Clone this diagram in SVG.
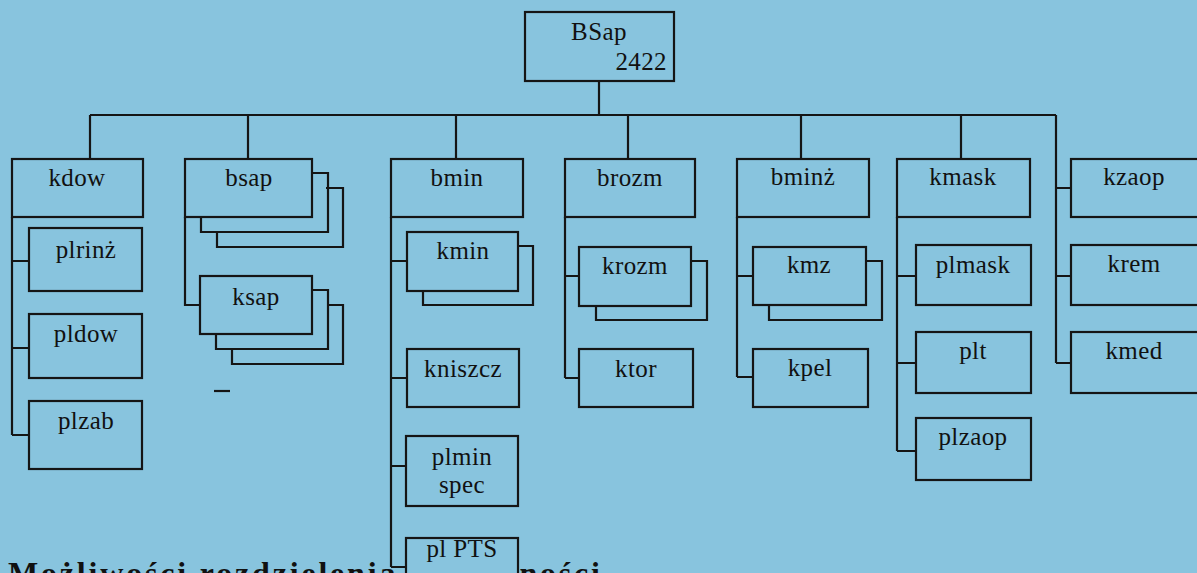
<svg xmlns="http://www.w3.org/2000/svg" width="1197" height="573" viewBox="0 0 1197 573">
<style>
  .bg{fill:#88c4de}
  .box{fill:none;stroke:#151515;stroke-width:2.2}
  .boxf{fill:#88c4de;stroke:#151515;stroke-width:2.2}
  .sh{fill:none;stroke:#151515;stroke-width:2.2;stroke-linejoin:miter}
  .ln{fill:none;stroke:#151515;stroke-width:2.2}
  .t{font-family:"Liberation Serif","Times New Roman",serif;font-size:25px;fill:#111;text-anchor:middle;letter-spacing:0.4px}
  .cap{font-family:"Liberation Serif","Times New Roman",serif;font-size:32px;font-weight:bold;fill:#111}
</style>
<rect class="bg" x="0" y="0" width="1197" height="573"/>

<text class="cap" x="8" y="584" textLength="592" lengthAdjust="spacing">Możliwości rozdzielenia działalności</text>

<g id="connectors">
  <path class="ln" d="M599,81 V115 M90,115 H1056"/>
  <path class="ln" d="M90,115 V159 M248,115 V159 M456,115 V159 M628,115 V159 M801,115 V159 M961,115 V159"/>
  <path class="ln" d="M12,217 V435 M12,261 H29 M12,348 H29 M12,435 H29"/>
  <path class="ln" d="M185,217 V305 H200"/>
  <path class="ln" d="M391,217 V567 M391,261 H407 M391,378 H407 M391,466 H406 M391,567 H406"/>
  <path class="ln" d="M565,217 V378 M565,276 H579 M565,378 H579"/>
  <path class="ln" d="M737,217 V377 M737,276 H753 M737,377 H753"/>
  <path class="ln" d="M897,217 V451 M897,276 H916 M897,363 H916 M897,451 H916"/>
  <path class="ln" d="M1056,115 V363 M1056,188 H1071 M1056,276 H1071 M1056,363 H1071"/>
  <path class="ln" d="M214,391 H230"/>
</g>

<g id="BSap">
  <rect class="box" x="525" y="12" width="149" height="69"/>
  <text class="t" x="599" y="40">BSap</text>
  <text class="t" x="667" y="70" style="text-anchor:end">2422</text>
</g>

<g id="kdow"><rect class="box" x="12" y="159" width="131" height="58"/><text class="t" x="77" y="186">kdow</text></g>
<g id="plrinz"><rect class="box" x="29" y="228" width="113" height="63"/><text class="t" x="86" y="258">plrinż</text></g>
<g id="pldow"><rect class="box" x="29" y="314" width="113" height="64"/><text class="t" x="86" y="342">pldow</text></g>
<g id="plzab"><rect class="box" x="29" y="401" width="113" height="68"/><text class="t" x="86" y="429">plzab</text></g>

<g id="bsap">
  <path class="sh" d="M326,188 H343 V247 H217 V232"/>
  <path class="sh" d="M312,173 H328 V232 H201 V217"/>
  <rect class="box" x="185" y="159" width="127" height="58"/>
  <text class="t" x="249" y="186">bsap</text>
</g>
<g id="ksap">
  <path class="sh" d="M328,305 H343 V364 H232 V349"/>
  <path class="sh" d="M312,290 H328 V349 H216 V334"/>
  <rect class="box" x="200" y="276" width="112" height="58"/>
  <text class="t" x="256" y="305">ksap</text>
</g>

<g id="bmin"><rect class="box" x="391" y="159" width="132" height="58"/><text class="t" x="457" y="186">bmin</text></g>
<g id="kmin">
  <path class="sh" d="M518,246 H533 V305 H423 V291"/>
  <rect class="box" x="407" y="232" width="111" height="59"/>
  <text class="t" x="463" y="259">kmin</text>
</g>
<g id="kniszcz"><rect class="box" x="407" y="349" width="112" height="58"/><text class="t" x="463" y="377">kniszcz</text></g>
<g id="plminspec"><rect class="box" x="406" y="436" width="112" height="70"/><text class="t" x="462" y="465">plmin</text><text class="t" x="462" y="493">spec</text></g>
<g id="plPTS"><rect class="boxf" x="406" y="538" width="112" height="60"/><text class="t" x="462" y="557">pl PTS</text></g>

<g id="brozm"><rect class="box" x="565" y="159" width="130" height="58"/><text class="t" x="630" y="186">brozm</text></g>
<g id="krozm">
  <path class="sh" d="M691,261 H707 V320 H596 V306"/>
  <rect class="box" x="579" y="247" width="112" height="59"/>
  <text class="t" x="635" y="274">krozm</text>
</g>
<g id="ktor"><rect class="box" x="579" y="349" width="114" height="58"/><text class="t" x="636" y="377">ktor</text></g>

<g id="bminz"><rect class="box" x="737" y="159" width="132" height="58"/><text class="t" x="803" y="185">bminż</text></g>
<g id="kmz">
  <path class="sh" d="M866,261 H882 V320 H769 V305"/>
  <rect class="box" x="753" y="247" width="113" height="58"/>
  <text class="t" x="809" y="273">kmz</text>
</g>
<g id="kpel"><rect class="box" x="753" y="349" width="115" height="58"/><text class="t" x="810" y="376">kpel</text></g>

<g id="kmask"><rect class="box" x="897" y="159" width="133" height="58"/><text class="t" x="963" y="185">kmask</text></g>
<g id="plmask"><rect class="box" x="916" y="245" width="115" height="60"/><text class="t" x="973" y="273">plmask</text></g>
<g id="plt"><rect class="box" x="916" y="332" width="115" height="61"/><text class="t" x="973" y="359">plt</text></g>
<g id="plzaop"><rect class="box" x="916" y="418" width="115" height="62"/><text class="t" x="973" y="445">plzaop</text></g>

<g id="kzaop"><rect class="box" x="1071" y="159" width="130" height="58"/><text class="t" x="1134" y="185">kzaop</text></g>
<g id="krem"><rect class="box" x="1071" y="245" width="130" height="60"/><text class="t" x="1134" y="272">krem</text></g>
<g id="kmed"><rect class="box" x="1071" y="332" width="130" height="61"/><text class="t" x="1134" y="359">kmed</text></g>
</svg>
